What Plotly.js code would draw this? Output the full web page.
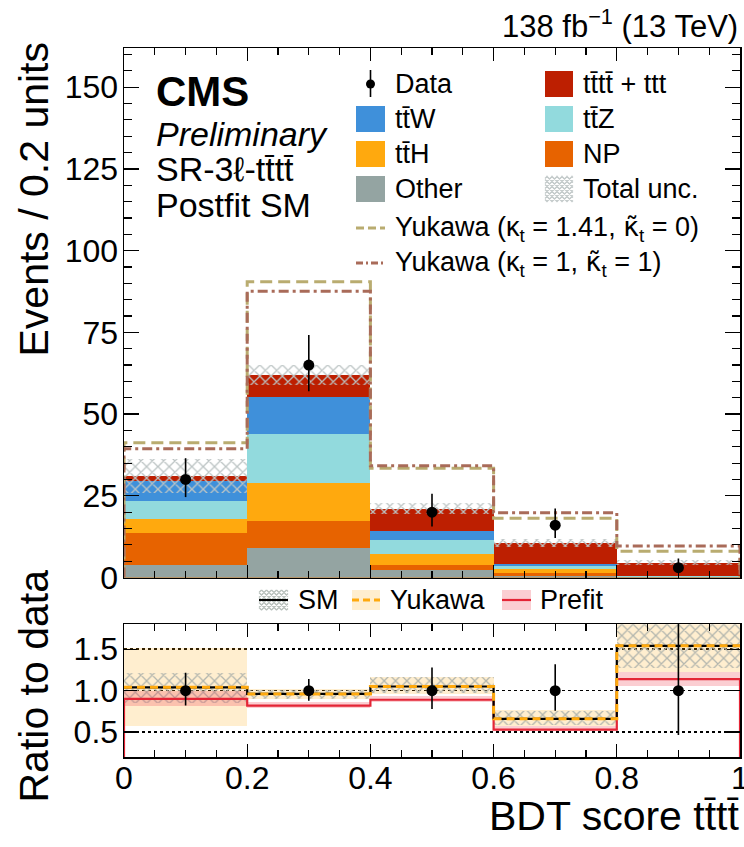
<!DOCTYPE html>
<html><head><meta charset="utf-8">
<script src="https://cdn.plot.ly/plotly-3.0.1.min.js"></script>
<style>html,body{margin:0;padding:0;background:#fff;} #chart{width:744px;height:847px;}</style>
</head><body><div id="chart"></div>
<script>
// ---------------- data ----------------
const binEdges = [0, 0.2, 0.4, 0.6, 0.8, 1.0];
const binCenters = [0.1, 0.3, 0.5, 0.7, 0.9];
const xTickVals = [0, 0.2, 0.4, 0.6, 0.8, 1];
const xTickText = ['0', '0.2', '0.4', '0.6', '0.8', '1'];
const other = [3.7, 9.0, 2.2, 0.5, 0.1];
const np = [9.8, 8.4, 1.5, 0.9, 0.1];
const ttH = [4.3, 11.5, 3.4, 1.2, 0.1];
const ttZ = [5.7, 15.0, 4.3, 0.9, 0.1];
const ttW = [5.9, 11.2, 2.8, 0.7, 0.1];
const tttt = [1.6, 6.9, 6.8, 6.3, 4.0];
const totalUnc = [5.2, 3.0, 1.7, 1.2, 0.8];
const dataY = [30, 65, 20, 16, 3];
const dataErrUp = [6.5, 9.2, 5.6, 5.1, 2.8];
const dataErrDown = [5.4, 8.0, 4.4, 3.9, 1.6];
const yukawaK141 = [41.2, 90.5, 33.4, 18.1, 8.0];
const yukawaK1Kt1 = [39.4, 87.6, 34.2, 19.8, 9.6];
// ratio panel
const smRatio = [1.04, 0.96, 1.05, 0.66, 1.54];
const smRatioLo = [0.85, 0.90, 0.97, 0.58, 1.27];
const smRatioHi = [1.21, 1.01, 1.16, 0.75, 1.85];
const yukRatio = [1.04, 0.96, 1.05, 0.66, 1.54];
const yukRatioLo = [0.57, 0.90, 0.96, 0.57, 1.22];
const yukRatioHi = [1.51, 1.02, 1.17, 0.77, 1.90];
const prefitRatio = [0.90, 0.82, 0.89, 0.53, 1.14];
const prefitRatioLo = [0.82, 0.79, 0.86, 0.51, 1.06];
const prefitRatioHi = [1.00, 0.86, 0.93, 0.57, 1.22];
// labels
const procNames = ['Other', 'NP', 't\u0074\u0304H', 't\u0074\u0304Z', 't\u0074\u0304W', 't\u0074\u0304t\u0074\u0304 + ttt'];
const procColors = ['#94a4a2', '#e76300', '#ffa90e', '#92dadd', '#3f90da', '#bd1f01'];

// ---------------- helpers ----------------
const FONT = 'Liberation Sans, Arial, Helvetica, sans-serif';
const L = 124, R = 740, T = 48, B = 757;
const px = x => (x - L) / (R - L);
const py = y => (B - y) / (B - T);
const binWidth = binEdges.slice(0, -1).map((e, i) => binEdges[i + 1] - e);

function stepLine(vals, toZero) {
  const x = binEdges.slice();
  const y = vals.concat([vals[vals.length - 1]]);
  if (toZero) {
    return { x: [binEdges[0]].concat(x, [binEdges[binEdges.length - 1]]), y: [0].concat(y, [0]) };
  }
  return { x, y };
}

const traces = [];
// stacked processes drawn as cumulative overlays (top first)
const stack = [other, np, ttH, ttZ, ttW, tttt];
const cum = [];
let run = [0, 0, 0, 0, 0];
stack.forEach((s) => { run = run.map((v, i) => v + s[i]); cum.push(run.slice()); });
const total = cum[cum.length - 1];
for (let k = stack.length - 1; k >= 0; k--) {
  traces.push({ type: 'bar', x: binCenters, y: cum[k], width: binWidth, xaxis: 'x', yaxis: 'y',
    marker: { color: procColors[k], line: { width: 0 } }, showlegend: false, hoverinfo: 'skip' });
}
// total uncertainty hatch
traces.push({ type: 'bar', x: binCenters, base: total.map((t, i) => t - totalUnc[i]),
  y: totalUnc.map(u => 2 * u), width: binWidth, xaxis: 'x', yaxis: 'y',
  marker: { color: 'rgba(0,0,0,0)', line: { width: 0 },
    pattern: { shape: 'x', fgcolor: '#bcc4c4', bgcolor: 'rgba(0,0,0,0)', size: 8, solidity: 0.3 } },
  showlegend: false, hoverinfo: 'skip' });
// Yukawa hypotheses
const yk1 = stepLine(yukawaK141, true);
traces.push({ type: 'scatter', mode: 'lines', x: yk1.x, y: yk1.y, line: { shape: 'hv', color: '#b9ac70', width: 3, dash: '12px,6px' },
  xaxis: 'x', yaxis: 'y', showlegend: false, hoverinfo: 'skip' });
const yk2 = stepLine(yukawaK1Kt1, true);
traces.push({ type: 'scatter', mode: 'lines', x: yk2.x, y: yk2.y, line: { shape: 'hv', color: '#a96b59', width: 3, dash: '10px,4px,3px,4px' },
  xaxis: 'x', yaxis: 'y', showlegend: false, hoverinfo: 'skip' });
// data
traces.push({ type: 'scatter', mode: 'markers', x: binCenters, y: dataY, xaxis: 'x', yaxis: 'y',
  marker: { color: '#000', size: 11 },
  error_y: { type: 'data', symmetric: false, array: dataErrUp, arrayminus: dataErrDown, color: '#000', thickness: 1.6, width: 0 },
  showlegend: false, hoverinfo: 'skip' });

// ---- ratio panel ----
function band(lo, hi, marker) {
  return { type: 'bar', x: binCenters, base: lo, y: hi.map((h, i) => h - lo[i]), width: binWidth,
    xaxis: 'x2', yaxis: 'y2', marker: marker, showlegend: false, hoverinfo: 'skip' };
}
traces.push(band(yukRatioLo, yukRatioHi, { color: 'rgba(255,169,14,0.2)', line: { width: 0 } }));
traces.push(band(smRatioLo, smRatioHi, { color: 'rgba(0,0,0,0)', line: { width: 0 },
  pattern: { shape: 'x', fgcolor: '#b3b6ae', bgcolor: 'rgba(0,0,0,0)', size: 8, solidity: 0.3 } }));
traces.push(band(prefitRatioLo, prefitRatioHi, { color: 'rgba(240,60,75,0.25)', line: { width: 0 } }));
const pf = stepLine(prefitRatio, true);
traces.push({ type: 'scatter', mode: 'lines', x: pf.x, y: pf.y, line: { shape: 'hv', color: '#e42536', width: 2.2 },
  xaxis: 'x2', yaxis: 'y2', showlegend: false, hoverinfo: 'skip' });
const sm = stepLine(smRatio, false);
traces.push({ type: 'scatter', mode: 'lines', x: sm.x, y: sm.y, line: { shape: 'hv', color: '#000', width: 2.2 },
  xaxis: 'x2', yaxis: 'y2', showlegend: false, hoverinfo: 'skip' });
const yk = stepLine(yukRatio, false);
traces.push({ type: 'scatter', mode: 'lines', x: yk.x, y: yk.y, line: { shape: 'hv', color: '#ffa90e', width: 3, dash: '8px,5px' },
  xaxis: 'x2', yaxis: 'y2', showlegend: false, hoverinfo: 'skip' });
traces.push({ type: 'scatter', mode: 'markers', x: binCenters, y: dataY.map(v => v / v), xaxis: 'x2', yaxis: 'y2',
  marker: { color: '#000', size: 11 },
  error_y: { type: 'data', symmetric: false, array: dataErrUp.map((e, i) => e / dataY[i]),
    arrayminus: dataErrDown.map((e, i) => e / dataY[i]), color: '#000', thickness: 1.6, width: 0 },
  showlegend: false, hoverinfo: 'skip' });

// ---------------- legend (shapes + annotations) ----------------
const shapes = [];
const annotations = [];
function txt(text, x, y, size, opts) {
  annotations.push(Object.assign({ text: text, xref: 'paper', yref: 'paper', x: px(x), y: py(y),
    xanchor: 'left', yanchor: 'middle', showarrow: false, font: { family: FONT, size: size, color: '#000' } }, opts || {}));
}
function rect(x0, y0, x1, y1, fill) {
  shapes.push({ type: 'rect', xref: 'paper', yref: 'paper', x0: px(x0), x1: px(x1), y0: py(y1), y1: py(y0),
    fillcolor: fill, line: { width: 0 }, layer: 'above' });
}
function line(x0, y0, x1, y1, color, width, dash) {
  shapes.push({ type: 'line', xref: 'paper', yref: 'paper', x0: px(x0), x1: px(x1), y0: py(y0), y1: py(y1),
    line: { color: color, width: width, dash: dash || 'solid' }, layer: 'above' });
}
function hatch(x0, y0, x1, y1, s, color) {
  let d = '';
  const w = x1 - x0, h = y1 - y0;
  for (let c = s / 2; c < w + h; c += s) {
    const uA = Math.max(0, c - h), uB = Math.min(w, c);
    if (uB > uA) d += 'M' + px(x0 + uA) + ',' + py(y0 + c - uA) + 'L' + px(x0 + uB) + ',' + py(y0 + c - uB);
  }
  for (let c = -h + s / 2; c < w; c += s) {
    const uA = Math.max(0, c), uB = Math.min(w, h + c);
    if (uB > uA) d += 'M' + px(x0 + uA) + ',' + py(y0 + uA - c) + 'L' + px(x0 + uB) + ',' + py(y0 + uB - c);
  }
  shapes.push({ type: 'path', xref: 'paper', yref: 'paper', path: d, line: { color: color, width: 1.3 }, layer: 'above' });
}

const LEG = 27;
const KT = '<span style="font-family:DejaVu Sans">\u03ba\u0303</span>';
// left text block
txt('<b>CMS</b>', 154, 91, 42);
txt('<i>Preliminary</i>', 154, 134, 34);
txt('SR-3\u2113-t\u0074\u0304t\u0074\u0304', 154, 169, 34);
txt('Postfit SM', 154, 205, 34);
// legend columns
const c1x0 = 356, c1x1 = 385, c1t = 393;
const c2x0 = 545, c2x1 = 573, c2t = 581;
const rowY = [84, 119, 154, 189];
const rowH = 13;
line(370.5, 70, 370.5, 97, '#000', 1.6);
shapes.push({ type: 'circle', xref: 'paper', yref: 'paper', x0: px(366), x1: px(375), y0: py(88.5), y1: py(79.5),
  fillcolor: '#000', line: { width: 0 }, layer: 'above' });
txt('Data', c1t, rowY[0], LEG);
rect(c1x0, rowY[1] - rowH, c1x1, rowY[1] + rowH, procColors[4]); txt(procNames[4], c1t, rowY[1], LEG);
rect(c1x0, rowY[2] - rowH, c1x1, rowY[2] + rowH, procColors[2]); txt(procNames[2], c1t, rowY[2], LEG);
rect(c1x0, rowY[3] - rowH, c1x1, rowY[3] + rowH, procColors[0]); txt(procNames[0], c1t, rowY[3], LEG);
rect(c2x0, rowY[0] - rowH, c2x1, rowY[0] + rowH, procColors[5]); txt(procNames[5], c2t, rowY[0], LEG);
rect(c2x0, rowY[1] - rowH, c2x1, rowY[1] + rowH, procColors[3]); txt(procNames[3], c2t, rowY[1], LEG);
rect(c2x0, rowY[2] - rowH, c2x1, rowY[2] + rowH, procColors[1]); txt(procNames[1], c2t, rowY[2], LEG);
hatch(c2x0, rowY[3] - rowH, c2x1, rowY[3] + rowH, 5, '#c3caca'); txt('Total unc.', c2t, rowY[3], LEG);
line(c1x0, 228, c1x1, 228, '#b9ac70', 3, '8px,4px');
txt('Yukawa (\u03ba<sub>t</sub> = 1.41, ' + KT + '<sub>t</sub> = 0)', c1t, 228, LEG);
line(c1x0, 263, c1x1, 263, '#a96b59', 3, '7px,3px,2px,3px');
txt('Yukawa (\u03ba<sub>t</sub> = 1, ' + KT + '<sub>t</sub> = 1)', c1t, 263, LEG);

// ratio legend
hatch(259, 590, 288, 610, 5, '#b8c0bc'); line(259, 600, 288, 600, '#000', 2);
txt('SM', 296, 600, LEG);
rect(352, 590, 380, 610, 'rgba(255,169,14,0.2)'); line(352, 600, 380, 600, '#ffa90e', 3, '7px,4px');
txt('Yukawa', 388, 600, LEG);
rect(502, 590, 531, 610, 'rgba(240,60,75,0.25)'); line(502, 600, 531, 600, '#e42536', 2.2);
txt('Prefit', 538, 600, LEG);

// lumi / axis titles
txt('138 fb<sup>\u22121</sup> (13 TeV)', 740, 24, 31, { xanchor: 'right' });
txt('Events / 0.2 units', 33, 40, 41, { xanchor: 'center', yanchor: 'top', textangle: -90 });
txt('Ratio to data', 33, 568, 41, { xanchor: 'center', yanchor: 'top', textangle: -90 });
txt('BDT score t\u0074\u0304t\u0074\u0304', 741, 816, 41, { xanchor: 'right' });

const axBase = { showline: true, linecolor: '#000', linewidth: 1.5, mirror: 'ticks', ticks: 'inside',
  tickcolor: '#000', tickwidth: 1.3, showgrid: false, zeroline: false, fixedrange: true,
  ticklabeloverflow: 'allow', tickfont: { family: FONT, size: 32, color: '#000' } };

const layout = {
  width: 744, height: 847, margin: { l: L, r: 744 - R, t: T, b: 847 - B },
  paper_bgcolor: '#fff', plot_bgcolor: '#fff', barmode: 'overlay', bargap: 0, showlegend: false,
  font: { family: FONT, color: '#000' },
  xaxis: Object.assign({}, axBase, { domain: [0, 1], anchor: 'y', range: [0, 1], tickvals: xTickVals, ticktext: xTickText, ticklen: 13,
    showticklabels: false, minor: { dtick: 0.05, ticklen: 7, ticks: 'inside', tickcolor: '#000', tickwidth: 1.1 } }),
  yaxis: Object.assign({}, axBase, { domain: [(B - 577.5) / (B - T), 1], anchor: 'x', range: [0, 162], tick0: 0, dtick: 25,
    ticklen: 15, ticklabelstandoff: -2, minor: { dtick: 5, ticklen: 8, ticks: 'inside', tickcolor: '#000', tickwidth: 1.1 } }),
  xaxis2: Object.assign({}, axBase, { domain: [0, 1], anchor: 'y2', range: [0, 1], tickvals: xTickVals, ticktext: xTickText, ticklen: 13,
    ticklabelstandoff: -8, minor: { dtick: 0.05, ticklen: 7, ticks: 'inside', tickcolor: '#000', tickwidth: 1.1 } }),
  yaxis2: Object.assign({}, axBase, { domain: [0, (B - 624.3) / (B - T)], anchor: 'x2', range: [0.2, 1.8],
    tickvals: [0.5, 1.0, 1.5], tickformat: '.1f', ticklen: 13, ticklabelstandoff: -2,
    showgrid: true, gridcolor: '#000', gridwidth: 1.5, griddash: 'dot' }),
  shapes: shapes,
  annotations: annotations
};

Plotly.newPlot('chart', traces, layout, { displayModeBar: false, staticPlot: true });
</script>
</body></html>
